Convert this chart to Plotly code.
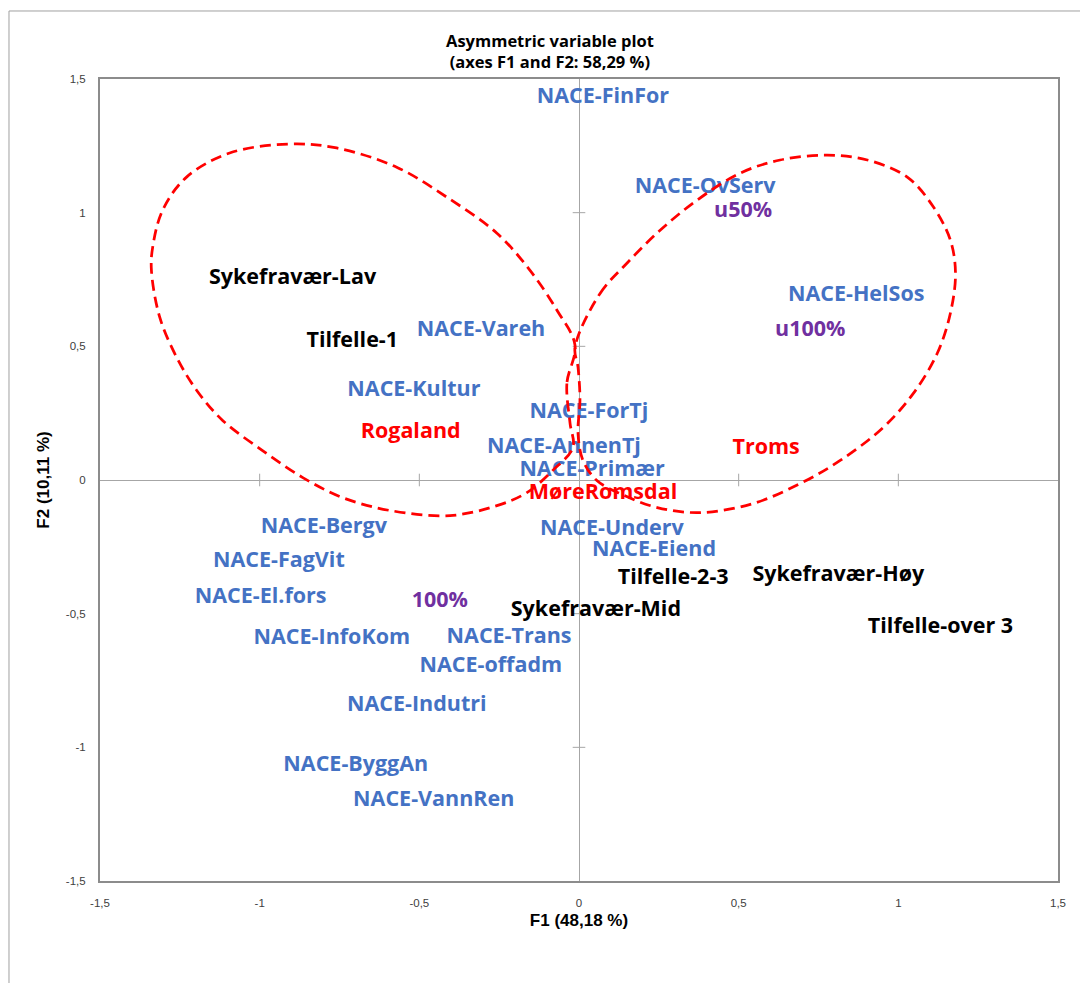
import plotly.graph_objects as go

# Active variable categories: NACE sectors (blue)
nace_labels = ["NACE-FinFor", "NACE-OvServ", "NACE-HelSos", "NACE-Vareh", "NACE-Kultur",
               "NACE-ForTj", "NACE-AnnenTj", "NACE-Primær", "NACE-Underv", "NACE-Eiend",
               "NACE-Bergv", "NACE-FagVit", "NACE-El.fors", "NACE-InfoKom", "NACE-Trans",
               "NACE-offadm", "NACE-Indutri", "NACE-ByggAn", "NACE-VannRen"]
nace_f1 = [0.075, 0.395, 0.868, -0.307, -0.517, 0.031, -0.047, 0.041, 0.103, 0.235,
           -0.799, -0.940, -0.997, -0.774, -0.219, -0.276, -0.508, -0.699, -0.455]
nace_f2 = [1.430, 1.095, 0.690, 0.560, 0.335, 0.253, 0.122, 0.036, -0.185, -0.264,
           -0.178, -0.305, -0.440, -0.594, -0.590, -0.698, -0.845, -1.069, -1.200]

# Sickness absence level and number of cases (black)
abs_labels = ["Sykefravær-Lav", "Tilfelle-1", "Tilfelle-2-3", "Sykefravær-Høy",
              "Sykefravær-Mid", "Tilfelle-over 3"]
abs_f1 = [-0.897, -0.710, 0.295, 0.812, 0.053, 1.132]
abs_f2 = [0.755, 0.519, -0.369, -0.358, -0.489, -0.552]

# Counties (red)
county_labels = ["Rogaland", "Troms", "MøreRomsdal"]
county_f1 = [-0.527, 0.586, 0.075]
county_f2 = [0.178, 0.118, -0.050]

# Position share (purple)
share_labels = ["u50%", "u100%", "100%"]
share_f1 = [0.514, 0.724, -0.436]
share_f2 = [1.005, 0.560, -0.455]

# Highlight outlines drawn over the map
left_loop_f1 = [-0.0125, -0.038, -0.028, -0.019, -0.082, -0.163, -0.257, -0.404, -0.592, -0.740,
                -0.865, -0.991, -1.116, -1.197, -1.260, -1.313, -1.339, -1.335, -1.304, -1.229,
                -1.094, -0.906, -0.759, -0.571, -0.414, -0.257, -0.154, -0.069, -0.0125]
left_loop_f2 = [0.504, 0.361, 0.212, 0.122, 0.036, -0.047, -0.096, -0.133, -0.114, -0.066,
                0.009, 0.110, 0.223, 0.335, 0.459, 0.609, 0.785, 0.871, 1.009, 1.133,
                1.223, 1.257, 1.242, 1.170, 1.058, 0.923, 0.785, 0.635, 0.504]
right_loop_f1 = [-0.0125, 0.066, 0.150, 0.254, 0.370, 0.505, 0.630, 0.777, 0.903, 1.028,
                 1.110, 1.163, 1.179, 1.163, 1.122, 1.047, 0.953, 0.818, 0.693, 0.545,
                 0.379, 0.245, 0.129, 0.056, 0.0125, -0.003, 0.003, -0.003, -0.0125]
right_loop_f2 = [0.496, 0.698, 0.811, 0.934, 1.047, 1.148, 1.197, 1.215, 1.197, 1.133,
                 1.021, 0.897, 0.773, 0.624, 0.474, 0.324, 0.197, 0.073, -0.013, -0.088,
                 -0.122, -0.103, -0.051, -0.002, 0.073, 0.174, 0.298, 0.421, 0.496]

tick_vals = [-1.5, -1, -0.5, 0, 0.5, 1, 1.5]
tick_text = ["-1,5", "-1", "-0,5", "0", "0,5", "1", "1,5"]
inner_ticks = [-1, -0.5, 0.5, 1]

LABEL_FONT = "Open Sans"
LABEL_SIZE = 21.5

fig = go.Figure()

# Small tick marks on the zero lines
fig.add_trace(go.Scatter(x=inner_ticks, y=[0] * len(inner_ticks), mode="markers",
                         marker=dict(symbol="line-ns", size=9, line=dict(color="#a6a6a6", width=1)),
                         hoverinfo="skip", showlegend=False))
fig.add_trace(go.Scatter(x=[0] * len(inner_ticks), y=inner_ticks, mode="markers",
                         marker=dict(symbol="line-ew", size=9, line=dict(color="#a6a6a6", width=1)),
                         hoverinfo="skip", showlegend=False))


def add_labels(xs, ys, labels, color):
    fig.add_trace(go.Scatter(x=xs, y=ys, text=labels, mode="text", textposition="middle center",
                             textfont=dict(family=LABEL_FONT, size=LABEL_SIZE, color=color,
                                           weight="bold"),
                             showlegend=False, hoverinfo="text"))


add_labels(nace_f1, nace_f2, nace_labels, "#4472C4")
add_labels(abs_f1, abs_f2, abs_labels, "#000000")
add_labels(county_f1, county_f2, county_labels, "#FF0000")
add_labels(share_f1, share_f2, share_labels, "#7030A0")

for lx, ly in [(left_loop_f1, left_loop_f2), (right_loop_f1, right_loop_f2)]:
    fig.add_trace(go.Scatter(x=lx, y=ly, mode="lines",
                             line=dict(color="#FF0000", width=2.75, dash="11px,6px",
                                       shape="spline", smoothing=1.0),
                             hoverinfo="skip", showlegend=False))

axis_common = dict(range=[-1.5, 1.5], tickvals=tick_vals, ticktext=tick_text,
                   showgrid=False, zeroline=True, zerolinecolor="#a6a6a6", zerolinewidth=1,
                   showline=True, linecolor="#8c8c8c", linewidth=2, mirror=True,
                   ticks="outside", tickcolor="rgba(0,0,0,0)", ticklen=10,
                   tickfont=dict(family="Liberation Sans", size=11.5, color="#404040"))

fig.update_layout(
    width=1080, height=983,
    margin=dict(l=100, r=22, t=79, b=102),
    paper_bgcolor="white", plot_bgcolor="white",
    xaxis=dict(**axis_common,
               title=dict(text="F1 (48,18 %)", standoff=6,
                          font=dict(family="Liberation Sans", size=17, color="#000000", weight="bold"))),
    yaxis=dict(**axis_common,
               title=dict(text="F2 (10,11 %)", standoff=12,
                          font=dict(family="Liberation Sans", size=17, color="#000000", weight="bold"))),
    showlegend=False,
    annotations=[dict(text="Asymmetric variable plot<br>(axes F1 and F2: 58,29 %)",
                      xref="paper", yref="paper", x=0.4697, y=1.0, yanchor="bottom",
                      yshift=4, showarrow=False, align="center",
                      font=dict(family=LABEL_FONT, size=16.5, color="#000000", weight="bold"))],
    shapes=[dict(type="rect", xref="paper", yref="paper", x0=-0.095, y0=-0.3, x1=1.2, y1=1.0848,
                 line=dict(color="#a0a0a0", width=1), fillcolor="rgba(0,0,0,0)", layer="below")],
)

fig.write_html("out.html")
